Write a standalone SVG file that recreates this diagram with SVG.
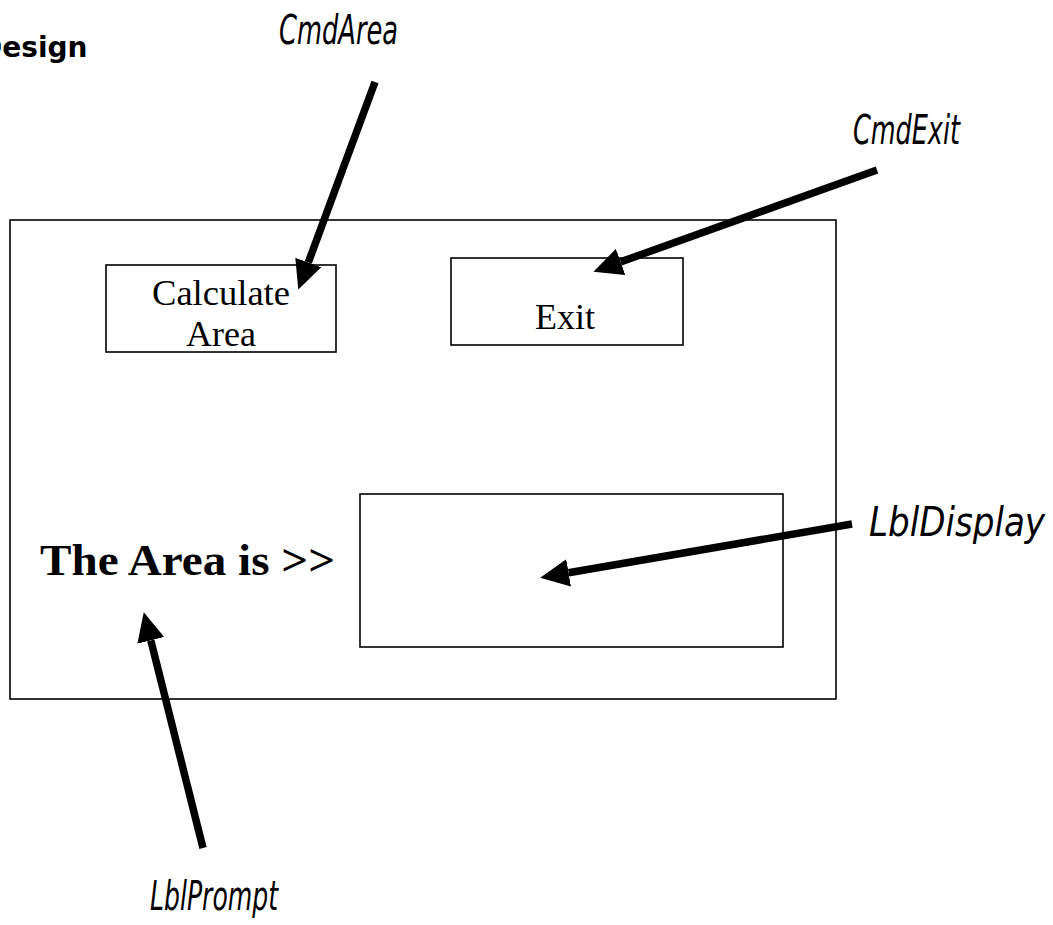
<svg xmlns="http://www.w3.org/2000/svg" width="1053" height="925" viewBox="0 0 1053 925">
<style>
.box{fill:none;stroke:#000;stroke-width:1.6}
.lbl{font-family:"Liberation Serif",serif;font-size:36px;fill:#000}
.hand{font-family:"DejaVu Sans Condensed","Liberation Sans Narrow",sans-serif;font-style:italic;font-weight:300;font-size:40px;fill:#000}
.arr{stroke:#000;stroke-width:7.5;fill:none}
</style>
<defs>
<marker id="ah" markerUnits="userSpaceOnUse" markerWidth="30" markerHeight="30" viewBox="0 -13 26 26" refX="0" refY="0" orient="auto">
<path d="M0,-12 L25,0 L0,12 Z" fill="#000"/>
</marker>
</defs>
<rect width="1053" height="925" fill="#fff"/>
<text x="-21" y="57" font-family="'DejaVu Sans',sans-serif" font-weight="700" font-size="28">Design</text>
<g id="form"><rect class="box" x="10" y="220" width="826" height="479"/></g>
<g id="cmdArea"><rect class="box" x="106" y="265" width="230" height="87"/>
<text class="lbl" x="221" y="305" text-anchor="middle" textLength="138" lengthAdjust="spacingAndGlyphs">Calculate</text>
<text class="lbl" x="221" y="346" text-anchor="middle">Area</text></g>
<g id="cmdExit"><rect class="box" x="451" y="258" width="232" height="87"/>
<text class="lbl" x="565" y="329" text-anchor="middle">Exit</text></g>
<g id="lblDisplay"><rect class="box" x="360" y="494" width="423" height="153"/></g>
<g id="lblPrompt"><text x="40" y="575" font-family="'Liberation Serif',serif" font-weight="bold" font-size="45" textLength="295" lengthAdjust="spacingAndGlyphs">The Area is &gt;&gt;</text></g>
<g id="labels">
<text class="hand" x="279" y="44" textLength="119" lengthAdjust="spacingAndGlyphs">CmdArea</text>
<text class="hand" x="853" y="144" textLength="107" lengthAdjust="spacingAndGlyphs">CmdExit</text>
<text class="hand" x="869" y="536" textLength="176" lengthAdjust="spacingAndGlyphs">LblDisplay</text>
<text class="hand" x="150" y="910" textLength="128" lengthAdjust="spacingAndGlyphs">LblPrompt</text>
</g>
<g id="connectors">
<line class="arr" x1="375" y1="82" x2="308.3" y2="262.5" marker-end="url(#ah)"/>
<line class="arr" x1="877" y1="170" x2="620.6" y2="261.9" marker-end="url(#ah)"/>
<line class="arr" x1="852" y1="524" x2="568.6" y2="572.8" marker-end="url(#ah)"/>
<line class="arr" x1="203" y1="848" x2="150.8" y2="640.3" marker-end="url(#ah)"/>
</g>
</svg>
